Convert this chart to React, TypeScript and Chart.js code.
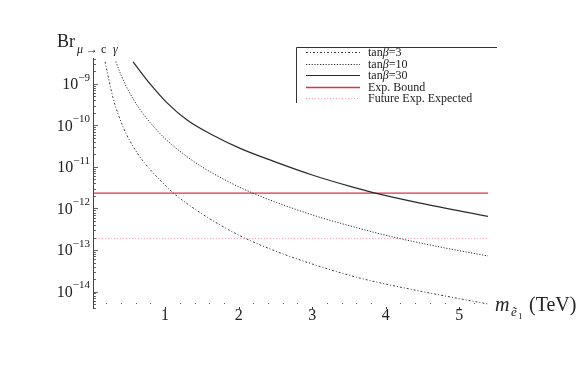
import React, { useEffect, useRef } from "react";
import { Chart, registerables } from "chart.js";

Chart.register(...registerables);

// ---- data ----
const massTan3 = [0.184, 0.293, 0.429, 0.619, 0.796, 0.959, 1.095, 1.503, 2.02, 2.497, 3.0, 3.653, 4.497, 5.395];
const brTan3 = [3.4e-9, 4.6e-10, 9.2e-11, 2.2e-11, 8.7e-12, 4.3e-12, 2.5e-12, 7.4e-13, 2.2e-13, 9.5e-14, 4.6e-14, 2.1e-14, 1.0e-14, 5.0e-15];

const massTan10 = [0.33, 0.4, 0.5, 0.65, 0.85, 1.0, 1.25, 1.5, 1.884, 2.156, 2.7, 3.109, 3.517, 4.102, 4.741, 5.39];
const brTan10 = [3.45e-9, 1.65e-9, 7.0e-10, 2.54e-10, 9.1e-11, 4.8e-11, 2.05e-11, 1.01e-11, 4.2e-12, 2.5e-12, 1.06e-12, 6.1e-13, 3.8e-13, 2.05e-13, 1.18e-13, 7.2e-14];

const massTan30 = [0.565, 0.796, 1.027, 1.299, 1.612, 2.02, 2.469, 3.0, 3.517, 3.816, 4.469, 5.395];
const brTan30 = [3.4e-9, 1.0e-9, 3.5e-10, 1.35e-10, 6.3e-11, 2.8e-11, 1.38e-11, 6.4e-12, 3.4e-12, 2.45e-12, 1.35e-12, 6.4e-13];

const expBound = 2.35e-12;
const futureExpected = 1.9e-13;

const xTickLabels = [1, 2, 3, 4, 5];
const yTickPowers = [-9, -10, -11, -12, -13, -14];
const seriesLabels = ["tanβ=3", "tanβ=10", "tanβ=30", "Exp. Bound", "Future Exp. Expected"];

const X_MIN = 0.02;
const X_MAX = 5.39;
const Y_MIN = 3.8e-15;
const Y_MAX = 4.2e-9;

const SERIF = '"Liberation Serif", "Times New Roman", serif';

const pts = (xs: number[], ys: number[]) => xs.map((x, i) => ({ x, y: ys[i] }));

const styles = [
  { color: "#3a3a3a", width: 1, dash: [2, 2, 1, 2] },
  { color: "#2e2e2e", width: 1, dash: [1.2, 1.6] },
  { color: "#2a2a2a", width: 1.2, dash: [] as number[] },
  { color: "#e0304c", width: 1.3, dash: [] as number[] },
  { color: "#ff9fb4", width: 1, dash: [1, 2] },
];

const overlay = {
  id: "overlay",
  afterDraw(chart: any) {
    const { ctx, chartArea: a } = chart;
    const x = chart.scales.x;
    const y = chart.scales.y;
    ctx.save();
    ctx.setLineDash([]);

    // y axis line
    ctx.strokeStyle = "#444";
    ctx.lineWidth = 1;
    ctx.beginPath();
    ctx.moveTo(a.left + 0.5, a.top);
    ctx.lineTo(a.left + 0.5, a.bottom);
    ctx.stroke();

    // y ticks (major + minor)
    ctx.strokeStyle = "#666";
    for (let p = -15; p <= -9; p++) {
      for (let k = 1; k <= 9; k++) {
        const v = k * Math.pow(10, p);
        if (v < Y_MIN || v > Y_MAX) continue;
        const py = Math.round(y.getPixelForValue(v)) + 0.5;
        const len = k === 1 ? 4 : 2;
        ctx.beginPath();
        ctx.moveTo(a.left + 1, py);
        ctx.lineTo(a.left + 1 + len, py);
        ctx.stroke();
      }
    }

    // y tick labels 10^p
    ctx.fillStyle = "#222";
    ctx.textBaseline = "middle";
    for (const p of yTickPowers) {
      const py = y.getPixelForValue(Math.pow(10, p));
      const sup = "\u2212" + String(-p);
      ctx.font = `11px ${SERIF}`;
      const supW = ctx.measureText(sup).width;
      ctx.font = `16px ${SERIF}`;
      const baseW = ctx.measureText("10").width;
      const right = a.left - 3;
      ctx.textAlign = "left";
      ctx.fillText("10", right - supW - baseW, py + 1);
      ctx.font = `11px ${SERIF}`;
      ctx.fillText(sup, right - supW, py - 6);
    }

    // x ticks: minor dots every 0.2, small marks at integers
    for (let i = 1; i <= 26; i++) {
      const v = i * 0.2;
      const px = Math.round(x.getPixelForValue(v));
      if (i % 5 === 0) {
        ctx.fillStyle = "#333";
        ctx.fillRect(px, a.bottom - 2, 1, 2);
      } else {
        ctx.fillStyle = "#555";
        ctx.fillRect(px, a.bottom - 6, 1, 1);
      }
    }

    // x tick labels
    ctx.fillStyle = "#222";
    ctx.font = `16px ${SERIF}`;
    ctx.textAlign = "center";
    ctx.textBaseline = "middle";
    for (const t of xTickLabels) {
      ctx.fillText(String(t), x.getPixelForValue(t), 316);
    }

    // y axis title: Br_{mu -> c gamma}
    ctx.textAlign = "left";
    ctx.textBaseline = "alphabetic";
    ctx.font = `18px ${SERIF}`;
    ctx.fillText("Br", 57, 47);
    ctx.font = `italic 12px ${SERIF}`;
    ctx.fillText("μ", 77, 53);
    ctx.font = `12px ${SERIF}`;
    ctx.fillText("→ c", 86, 53);
    ctx.font = `italic 12px ${SERIF}`;
    ctx.fillText("γ", 113, 53);

    // x axis title: m_{e~1} (TeV)
    ctx.font = `italic 20px ${SERIF}`;
    ctx.fillText("m", 495, 311);
    ctx.font = `italic 13px ${SERIF}`;
    ctx.fillText("ẽ", 511, 316);
    ctx.font = `9px ${SERIF}`;
    ctx.fillText("1", 518, 319);
    ctx.font = `20px ${SERIF}`;
    ctx.fillText("(TeV)", 529, 311);

    // legend
    ctx.strokeStyle = "#333";
    ctx.lineWidth = 1;
    ctx.beginPath();
    ctx.moveTo(497, 47.5);
    ctx.lineTo(296.5, 47.5);
    ctx.lineTo(296.5, 103);
    ctx.stroke();
    const rowY = [52, 63.5, 75, 86.5, 98];
    chart.data.datasets.forEach((ds: any, i: number) => {
      const yy = Math.round(rowY[i]) + 0.5;
      ctx.strokeStyle = ds.borderColor;
      ctx.lineWidth = ds.borderWidth;
      ctx.setLineDash(ds.borderDash || []);
      ctx.beginPath();
      ctx.moveTo(306, yy);
      ctx.lineTo(360, yy);
      ctx.stroke();
      ctx.setLineDash([]);
      ctx.fillStyle = "#222";
      ctx.textBaseline = "middle";
      const label: string = ds.label;
      let cx = 368;
      if (label.startsWith("tanβ")) {
        ctx.font = `12px ${SERIF}`;
        ctx.fillText("tan", cx, yy);
        cx += ctx.measureText("tan").width;
        ctx.font = `italic 12px ${SERIF}`;
        ctx.fillText("β", cx, yy);
        cx += ctx.measureText("β").width;
        ctx.font = `12px ${SERIF}`;
        ctx.fillText(label.slice(4), cx, yy);
      } else {
        ctx.font = `12px ${SERIF}`;
        ctx.fillText(label, cx, yy);
      }
    });

    ctx.restore();
  },
};

export default function App() {
  const canvasRef = useRef<HTMLCanvasElement | null>(null);

  useEffect(() => {
    const canvas = canvasRef.current;
    if (!canvas) return;
    const seriesData = [
      pts(massTan3, brTan3),
      pts(massTan10, brTan10),
      pts(massTan30, brTan30),
      [{ x: X_MIN, y: expBound }, { x: X_MAX, y: expBound }],
      [{ x: X_MIN, y: futureExpected }, { x: X_MAX, y: futureExpected }],
    ];
    const chart = new Chart(canvas, {
      type: "line",
      data: {
        datasets: seriesData.map((d, i) => ({
          label: seriesLabels[i],
          data: d,
          borderColor: styles[i].color,
          borderWidth: styles[i].width,
          borderDash: styles[i].dash,
          pointRadius: 0,
          fill: false,
          cubicInterpolationMode: "monotone" as const,
        })),
      },
      options: {
        responsive: false,
        animation: false,
        layout: { padding: { left: 93, right: 93, top: 58, bottom: 71 } },
        plugins: { legend: { display: false }, tooltip: { enabled: false } },
        scales: {
          x: { type: "linear", min: X_MIN, max: X_MAX, display: false },
          y: { type: "logarithmic", min: Y_MIN, max: Y_MAX, display: false },
        },
      },
      plugins: [overlay],
    });
    return () => chart.destroy();
  }, []);

  return (
    <div style={{ position: "fixed", left: 0, top: 0, width: 581, height: 380, background: "#fff" }}>
      <canvas ref={canvasRef} width={581} height={380} />
    </div>
  );
}
